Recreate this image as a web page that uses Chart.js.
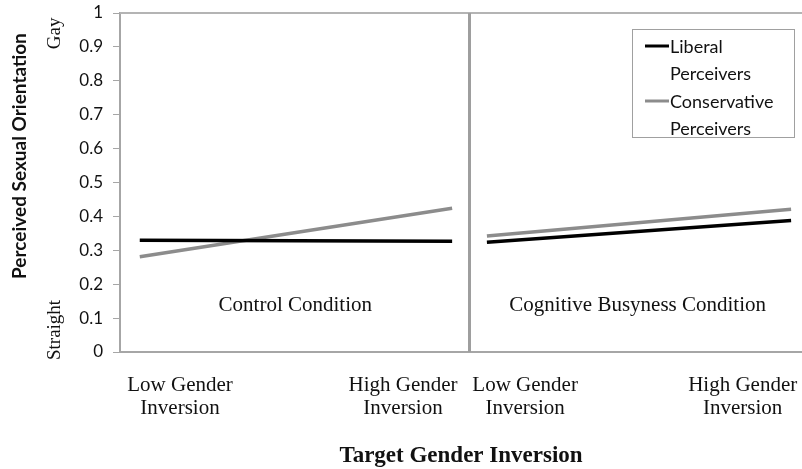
<!DOCTYPE html>
<html>
<head>
<meta charset="utf-8">
<script src="https://cdn.jsdelivr.net/npm/chart.js@4.4.1/dist/chart.umd.min.js"></script>
<style>
  html, body { margin: 0; padding: 0; background: #fff; }
  #wrap { width: 802px; height: 469px; }
</style>
</head>
<body>
<div id="wrap"><canvas id="genderChart" width="802" height="469"></canvas></div>
<script>
  // data
  const conditionNames = ['Control Condition', 'Cognitive Busyness Condition'];
  const levelNames = [['Low Gender', 'Inversion'], ['High Gender', 'Inversion']];
  const seriesNames = [['Liberal', 'Perceivers'], ['Conservative', 'Perceivers']];

  const liberalControl = [0.330, 0.327];
  const conservativeControl = [0.281, 0.424];
  const liberalBusy = [0.324, 0.388];
  const conservativeBusy = [0.342, 0.421];

  // where each level sits along the horizontal axis (axis runs 0..100)
  const controlLevelX = [2.9, 48.7];
  const busyLevelX = [53.8, 98.4];
  const levelTickX = [8.8, 41.5, 59.4, 91.3];
  const dividerX = 51.2;

  const black = '#000000';
  const grey = '#8c8c8c';
  const axisGrey = '#a6a6a6';
  const serif = '"Liberation Serif", "Times New Roman", serif';
  const sans = 'Lato, "Open Sans", sans-serif';

  var toPoints = function(xs, ys) {
    return xs.map((x, i) => ({ x: x, y: ys[i] }));
  };

  var lineSet = function(xs, ys, color) {
    return {
      data: toPoints(xs, ys),
      borderColor: color,
      backgroundColor: color,
      borderWidth: 3.5,
      pointRadius: 0,
      tension: 0
    };
  };

  // frame, divider, in-plot texts and the boxed legend
  const extrasPlugin = {
    id: 'extras',
    afterDraw(chart) {
      const ctx = chart.ctx;
      const area = chart.chartArea;
      const xs = chart.scales.x;
      const ys = chart.scales.y;
      ctx.save();

      // top frame line
      ctx.strokeStyle = '#b4b4b4';
      ctx.lineWidth = 2;
      ctx.beginPath();
      ctx.moveTo(area.left, area.top);
      ctx.lineTo(area.right, area.top);
      ctx.stroke();

      // panel divider
      const dx = Math.round(xs.getPixelForValue(dividerX)) + 0.5;
      ctx.strokeStyle = '#9e9e9e';
      ctx.lineWidth = 3;
      ctx.beginPath();
      ctx.moveTo(dx, area.top);
      ctx.lineTo(dx, area.bottom);
      ctx.stroke();

      // panel captions
      ctx.fillStyle = '#111';
      ctx.font = '21px ' + serif;
      ctx.textAlign = 'center';
      ctx.textBaseline = 'middle';
      ctx.fillText(conditionNames[0], xs.getPixelForValue(25.7), ys.getPixelForValue(0.136));
      ctx.fillText(conditionNames[1], xs.getPixelForValue(75.9), ys.getPixelForValue(0.136));

      // rotated texts left of the axis
      var rotated = function(text, x, y, font) {
        ctx.save();
        ctx.translate(x, y);
        ctx.rotate(-Math.PI / 2);
        ctx.font = font;
        ctx.fillText(text, 0, 0);
        ctx.restore();
      };
      rotated('Gay', area.left - 65, ys.getPixelForValue(0.94), '19px ' + serif);
      rotated('Straight', area.left - 65, ys.getPixelForValue(0.065), '19px ' + serif);
      rotated('Perceived Sexual Orientation', 20, ys.getPixelForValue(0.578), 'bold 19px ' + sans);

      // legend box
      const bx = area.right - 170, by = area.top + 16, bw = 162, bh = 108;
      ctx.fillStyle = '#fff';
      ctx.fillRect(bx, by, bw, bh);
      ctx.strokeStyle = '#a0a0a0';
      ctx.lineWidth = 1;
      ctx.strokeRect(bx + 0.5, by + 0.5, bw, bh);
      const colors = [black, grey];
      ctx.font = '18px ' + sans;
      ctx.textAlign = 'left';
      seriesNames.forEach((name, i) => {
        const top = by + 17 + i * 55;
        ctx.strokeStyle = colors[i];
        ctx.lineWidth = 3;
        ctx.beginPath();
        ctx.moveTo(bx + 13, top);
        ctx.lineTo(bx + 37, top);
        ctx.stroke();
        ctx.fillStyle = '#111';
        ctx.fillText(name[0], bx + 38, top + 1);
        ctx.fillText(name[1], bx + 38, top + 28);
      });

      ctx.restore();
    }
  };

  new Chart(document.getElementById('genderChart').getContext('2d'), {
    type: 'line',
    data: {
      datasets: [
        lineSet(controlLevelX, liberalControl, black),
        lineSet(controlLevelX, conservativeControl, grey),
        lineSet(busyLevelX, liberalBusy, black),
        lineSet(busyLevelX, conservativeBusy, grey)
      ]
    },
    options: {
      responsive: false,
      animation: false,
      devicePixelRatio: 1,
      layout: { padding: { top: 13, left: 0, right: 0, bottom: 0 } },
      plugins: {
        legend: { display: false },
        tooltip: { enabled: false }
      },
      scales: {
        x: {
          type: 'linear',
          min: 0,
          max: 100,
          afterBuildTicks: scale => {
            scale.ticks = levelTickX.map(v => ({ value: v }));
          },
          afterFit: scale => {
            scale.height = 117;
            scale.paddingLeft = 0;
            scale.paddingRight = 0;
          },
          ticks: {
            autoSkip: false,
            maxRotation: 0,
            padding: 22,
            color: '#111',
            font: { family: serif, size: 21, lineHeight: 1.1 },
            callback: (value, index) => levelNames[index % 2]
          },
          grid: { drawOnChartArea: false, drawTicks: false, color: 'rgba(0,0,0,0)' },
          border: { display: true, color: axisGrey, width: 2 },
          title: {
            display: true,
            text: 'Target Gender Inversion',
            color: '#111',
            font: { family: serif, size: 23, weight: 'bold' },
            padding: { top: 0, bottom: -1 }
          }
        },
        y: {
          min: 0,
          max: 1,
          afterFit: scale => {
            scale.width = 120;
            scale.paddingTop = 0;
            scale.paddingBottom = 0;
          },
          ticks: {
            stepSize: 0.1,
            padding: 10,
            color: '#111',
            font: { family: sans, size: 17 },
            callback: value => String(+value.toFixed(1))
          },
          grid: { drawOnChartArea: false, drawTicks: true, tickLength: 7, color: axisGrey },
          border: { display: true, color: axisGrey, width: 2 }
        }
      }
    },
    plugins: [extrasPlugin]
  });
</script>
</body>
</html>
